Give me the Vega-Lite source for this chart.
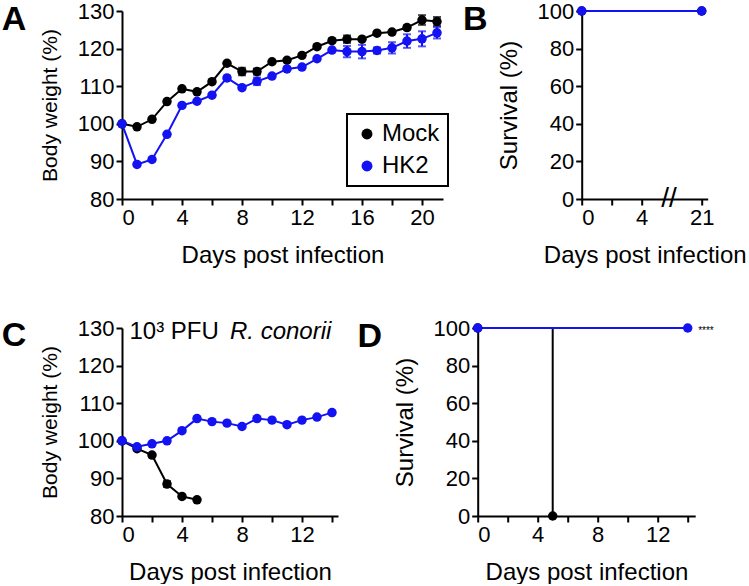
{
  "$schema": "https://vega.github.io/schema/vega-lite/v6.json",
  "padding": {"left": 1, "top": 0, "right": 0, "bottom": 0},
  "background": "white",
  "datasets": {
    "weightA": [
      {"day": 0, "group": "Mock", "weight": 100.0, "sem": 0},
      {"day": 1, "group": "Mock", "weight": 99.2, "sem": 0},
      {"day": 2, "group": "Mock", "weight": 101.2, "sem": 0},
      {"day": 3, "group": "Mock", "weight": 105.9, "sem": 0},
      {"day": 4, "group": "Mock", "weight": 109.3, "sem": 0},
      {"day": 5, "group": "Mock", "weight": 108.5, "sem": 0},
      {"day": 6, "group": "Mock", "weight": 111.2, "sem": 0},
      {"day": 7, "group": "Mock", "weight": 116.1, "sem": 0},
      {"day": 8, "group": "Mock", "weight": 113.9, "sem": 1.0},
      {"day": 9, "group": "Mock", "weight": 113.9, "sem": 0.8},
      {"day": 10, "group": "Mock", "weight": 116.5, "sem": 0},
      {"day": 11, "group": "Mock", "weight": 116.9, "sem": 0},
      {"day": 12, "group": "Mock", "weight": 118.2, "sem": 0},
      {"day": 13, "group": "Mock", "weight": 120.5, "sem": 0},
      {"day": 14, "group": "Mock", "weight": 122.1, "sem": 0},
      {"day": 15, "group": "Mock", "weight": 122.5, "sem": 1.0},
      {"day": 16, "group": "Mock", "weight": 122.5, "sem": 0},
      {"day": 17, "group": "Mock", "weight": 124.1, "sem": 0},
      {"day": 18, "group": "Mock", "weight": 124.4, "sem": 0},
      {"day": 19, "group": "Mock", "weight": 125.6, "sem": 0.5},
      {"day": 20, "group": "Mock", "weight": 127.6, "sem": 1.3},
      {"day": 21, "group": "Mock", "weight": 127.2, "sem": 1.2},
      {"day": 0, "group": "HK2", "weight": 100.0, "sem": 0},
      {"day": 1, "group": "HK2", "weight": 89.2, "sem": 0},
      {"day": 2, "group": "HK2", "weight": 90.5, "sem": 0},
      {"day": 3, "group": "HK2", "weight": 97.2, "sem": 0},
      {"day": 4, "group": "HK2", "weight": 104.9, "sem": 0},
      {"day": 5, "group": "HK2", "weight": 106.0, "sem": 0},
      {"day": 6, "group": "HK2", "weight": 107.6, "sem": 0},
      {"day": 7, "group": "HK2", "weight": 112.2, "sem": 0},
      {"day": 8, "group": "HK2", "weight": 109.6, "sem": 0},
      {"day": 9, "group": "HK2", "weight": 111.3, "sem": 1.0},
      {"day": 10, "group": "HK2", "weight": 112.7, "sem": 0},
      {"day": 11, "group": "HK2", "weight": 114.6, "sem": 0},
      {"day": 12, "group": "HK2", "weight": 115.1, "sem": 0},
      {"day": 13, "group": "HK2", "weight": 117.3, "sem": 0},
      {"day": 14, "group": "HK2", "weight": 119.6, "sem": 0},
      {"day": 15, "group": "HK2", "weight": 119.2, "sem": 1.5},
      {"day": 16, "group": "HK2", "weight": 119.2, "sem": 1.8},
      {"day": 17, "group": "HK2", "weight": 119.5, "sem": 0.8},
      {"day": 18, "group": "HK2", "weight": 120.2, "sem": 1.5},
      {"day": 19, "group": "HK2", "weight": 122.0, "sem": 1.8},
      {"day": 20, "group": "HK2", "weight": 122.6, "sem": 2.0},
      {"day": 21, "group": "HK2", "weight": 124.2, "sem": 1.5}
    ],
    "survB": [
      {"day": 0, "group": "Mock", "survival": 100},
      {"day": 21, "group": "Mock", "survival": 100},
      {"day": 0, "group": "HK2", "survival": 100},
      {"day": 21, "group": "HK2", "survival": 100}
    ],
    "weightC": [
      {"day": 0, "group": "Mock", "weight": 100.0, "sem": 0},
      {"day": 1, "group": "Mock", "weight": 97.9, "sem": 0},
      {"day": 2, "group": "Mock", "weight": 96.2, "sem": 0},
      {"day": 3, "group": "Mock", "weight": 88.5, "sem": 0.8},
      {"day": 4, "group": "Mock", "weight": 85.2, "sem": 0},
      {"day": 5, "group": "Mock", "weight": 84.3, "sem": 0},
      {"day": 0, "group": "HK2", "weight": 100.0, "sem": 0},
      {"day": 1, "group": "HK2", "weight": 98.4, "sem": 0},
      {"day": 2, "group": "HK2", "weight": 99.2, "sem": 0},
      {"day": 3, "group": "HK2", "weight": 100.0, "sem": 0},
      {"day": 4, "group": "HK2", "weight": 102.7, "sem": 0},
      {"day": 5, "group": "HK2", "weight": 105.9, "sem": 0},
      {"day": 6, "group": "HK2", "weight": 105.1, "sem": 0},
      {"day": 7, "group": "HK2", "weight": 104.7, "sem": 0},
      {"day": 8, "group": "HK2", "weight": 103.8, "sem": 0},
      {"day": 9, "group": "HK2", "weight": 105.9, "sem": 0},
      {"day": 10, "group": "HK2", "weight": 105.5, "sem": 0},
      {"day": 11, "group": "HK2", "weight": 104.3, "sem": 0},
      {"day": 12, "group": "HK2", "weight": 105.5, "sem": 0},
      {"day": 13, "group": "HK2", "weight": 106.3, "sem": 0},
      {"day": 14, "group": "HK2", "weight": 107.5, "sem": 0}
    ],
    "survD": [
      {"day": 0, "group": "Mock", "survival": 100},
      {"day": 5, "group": "Mock", "survival": 0},
      {"day": 0, "group": "HK2", "survival": 100},
      {"day": 14, "group": "HK2", "survival": 100}
    ]
  },
  "vconcat": [
    {
      "hconcat": [
        {
          "width": 321,
          "height": 188,
          "data": {"name": "weightA"},
          "encoding": {
            "x": {
              "field": "day", "type": "quantitative",
              "scale": {"domain": [0, 21.4], "nice": false},
              "axis": {"values": [0, 2, 4, 6, 8, 10, 12, 14, 16, 18, 20], "labelExpr": "datum.value % 4 == 0 ? datum.label : ''", "title": "Days post infection"}
            },
            "y": {
              "field": "weight", "type": "quantitative",
              "scale": {"domain": [80, 130], "nice": false, "zero": false},
              "axis": {"values": [80, 90, 100, 110, 120, 130], "title": "Body weight (%)", "titleFontSize": 21, "titlePadding": 17}
            },
            "color": {
              "field": "group", "type": "nominal",
              "scale": {"domain": ["Mock", "HK2"], "range": ["#000000", "#1212f2"]},
              "legend": {
                "orient": "none", "legendX": 225, "legendY": 103, "title": null,
                "strokeColor": "#000000", "padding": 8, "labelFontSize": 24, "labelColor": "#000000",
                "symbolType": "circle", "symbolSize": 120, "symbolStrokeWidth": 0, "symbolOpacity": 1,
                "rowPadding": 8, "labelOffset": 3,
                "encode": {"legend": {"update": {"strokeWidth": {"value": 2}}}}
              }
            }
          },
          "layer": [
            {"mark": {"type": "line", "strokeWidth": 2}},
            {
              "transform": [{"filter": "datum.sem > 0"}],
              "mark": {"type": "errorbar", "ticks": {"size": 8, "thickness": 2}, "thickness": 2},
              "encoding": {"yError": {"field": "sem"}}
            },
            {"mark": {"type": "point", "filled": true, "size": 90, "opacity": 1}},
            {
              "transform": [{"filter": "datum.day == 0 && datum.group == 'Mock'"}],
              "mark": {"type": "text", "fontSize": 34, "fontWeight": "bold", "align": "center", "baseline": "alphabetic"},
              "encoding": {"x": {"datum": -7.2}, "y": {"datum": 125}, "text": {"value": "A"}, "color": {"value": "#000000"}}
            }
          ]
        },
        {
          "width": 126,
          "height": 188,
          "data": {"name": "survB"},
          "encoding": {
            "x": {
              "field": "day", "type": "quantitative",
              "scale": {"domain": [0, 5.5, 20.5, 21.4], "range": [0, 82.5, 112.5, 126], "nice": false},
              "axis": {"values": [0, 2, 4, 21], "labelExpr": "datum.value == 2 ? '' : datum.label", "title": "Days post infection"}
            },
            "y": {
              "field": "survival", "type": "quantitative",
              "scale": {"domain": [0, 100], "nice": false},
              "axis": {"values": [0, 20, 40, 60, 80, 100], "title": "Survival (%)", "titlePadding": 15}
            },
            "color": {
              "field": "group", "type": "nominal",
              "scale": {"domain": ["Mock", "HK2"], "range": ["#000000", "#1212f2"]},
              "legend": null
            }
          },
          "layer": [
            {"mark": {"type": "line", "strokeWidth": 2, "interpolate": "step-after"}},
            {"mark": {"type": "point", "filled": true, "size": 90, "opacity": 1}},
            {
              "transform": [{"filter": "datum.day == 0 && datum.group == 'Mock'"}],
              "mark": {"type": "text", "fontSize": 28, "align": "center", "baseline": "middle"},
              "encoding": {"x": {"datum": 7.9}, "y": {"datum": 0}, "text": {"value": "//"}, "color": {"value": "#000000"}}
            },
            {
              "transform": [{"filter": "datum.day == 0 && datum.group == 'Mock'"}],
              "mark": {"type": "text", "fontSize": 34, "fontWeight": "bold", "align": "center", "baseline": "alphabetic"},
              "encoding": {"x": {"datum": -7.1}, "y": {"datum": 90}, "text": {"value": "B"}, "color": {"value": "#000000"}}
            }
          ]
        }
      ],
      "spacing": 19.7
    },
    {
      "hconcat": [
        {
          "width": 216,
          "height": 188,
          "data": {"name": "weightC"},
          "encoding": {
            "x": {
              "field": "day", "type": "quantitative",
              "scale": {"domain": [0, 14.4], "nice": false},
              "axis": {"values": [0, 2, 4, 6, 8, 10, 12, 14], "labelExpr": "datum.value % 4 == 0 ? datum.label : ''", "title": "Days post infection"}
            },
            "y": {
              "field": "weight", "type": "quantitative",
              "scale": {"domain": [80, 130], "nice": false, "zero": false},
              "axis": {"values": [80, 90, 100, 110, 120, 130], "title": "Body weight (%)", "titleFontSize": 21, "titlePadding": 17}
            },
            "color": {
              "field": "group", "type": "nominal",
              "scale": {"domain": ["Mock", "HK2"], "range": ["#000000", "#1212f2"]},
              "legend": null
            }
          },
          "layer": [
            {"mark": {"type": "line", "strokeWidth": 2}},
            {
              "transform": [{"filter": "datum.sem > 0"}],
              "mark": {"type": "errorbar", "ticks": {"size": 8, "thickness": 2}, "thickness": 2},
              "encoding": {"yError": {"field": "sem"}}
            },
            {"mark": {"type": "point", "filled": true, "size": 90, "opacity": 1}},
            {
              "transform": [{"filter": "datum.day == 0 && datum.group == 'Mock'"}],
              "mark": {"type": "text", "fontSize": 24, "align": "left", "baseline": "alphabetic"},
              "encoding": {"x": {"datum": 0.5}, "y": {"datum": 127.2}, "text": {"value": "10³ PFU"}, "color": {"value": "#000000"}}
            },
            {
              "transform": [{"filter": "datum.day == 0 && datum.group == 'Mock'"}],
              "mark": {"type": "text", "fontSize": 24, "fontStyle": "italic", "align": "left", "baseline": "alphabetic"},
              "encoding": {"x": {"datum": 7.2}, "y": {"datum": 127.2}, "text": {"value": "R. conorii"}, "color": {"value": "#000000"}}
            },
            {
              "transform": [{"filter": "datum.day == 0 && datum.group == 'Mock'"}],
              "mark": {"type": "text", "fontSize": 34, "fontWeight": "bold", "align": "center", "baseline": "alphabetic"},
              "encoding": {"x": {"datum": -7.2}, "y": {"datum": 125.2}, "text": {"value": "C"}, "color": {"value": "#000000"}}
            }
          ]
        },
        {
          "width": 217.5,
          "height": 188,
          "data": {"name": "survD"},
          "encoding": {
            "x": {
              "field": "day", "type": "quantitative",
              "scale": {"domain": [0, 14.5], "nice": false},
              "axis": {"values": [0, 2, 4, 6, 8, 10, 12, 14], "labelExpr": "datum.value % 4 == 0 ? datum.label : ''", "title": "Days post infection"}
            },
            "y": {
              "field": "survival", "type": "quantitative",
              "scale": {"domain": [0, 100], "nice": false},
              "axis": {"values": [0, 20, 40, 60, 80, 100], "title": "Survival (%)", "titlePadding": 15}
            },
            "color": {
              "field": "group", "type": "nominal",
              "scale": {"domain": ["Mock", "HK2"], "range": ["#000000", "#1212f2"]},
              "legend": null
            }
          },
          "layer": [
            {"mark": {"type": "line", "strokeWidth": 2, "interpolate": "step-after"}},
            {"mark": {"type": "point", "filled": true, "size": 90, "opacity": 1}},
            {
              "transform": [{"filter": "datum.day == 0 && datum.group == 'Mock'"}],
              "mark": {"type": "text", "fontSize": 10, "align": "left", "baseline": "middle", "dy": 3},
              "encoding": {"x": {"datum": 14.7}, "y": {"datum": 100}, "text": {"value": "****"}, "color": {"value": "#000000"}}
            },
            {
              "transform": [{"filter": "datum.day == 0 && datum.group == 'Mock'"}],
              "mark": {"type": "text", "fontSize": 34, "fontWeight": "bold", "align": "center", "baseline": "alphabetic"},
              "encoding": {"x": {"datum": -7.2}, "y": {"datum": 90}, "text": {"value": "D"}, "color": {"value": "#000000"}}
            }
          ]
        }
      ],
      "spacing": 18.7
    }
  ],
  "spacing": 50,
  "resolve": {"scale": {"color": "independent", "x": "independent", "y": "independent"}},
  "config": {
    "font": "Liberation Sans",
    "view": {"stroke": null},
    "axis": {
      "grid": false,
      "domainColor": "#000000", "domainWidth": 2,
      "tickColor": "#000000", "tickWidth": 2, "tickSize": 6,
      "labelFont": "Liberation Sans", "labelFontSize": 22, "labelColor": "#000000", "labelPadding": 2,
      "titleFont": "Liberation Sans", "titleFontSize": 24, "titleFontWeight": "normal", "titleColor": "#000000",
      "titlePadding": 8
    },
    "axisX": {"titlePadding": 15},
    "legend": {"labelFont": "Liberation Sans"}
  }
}
